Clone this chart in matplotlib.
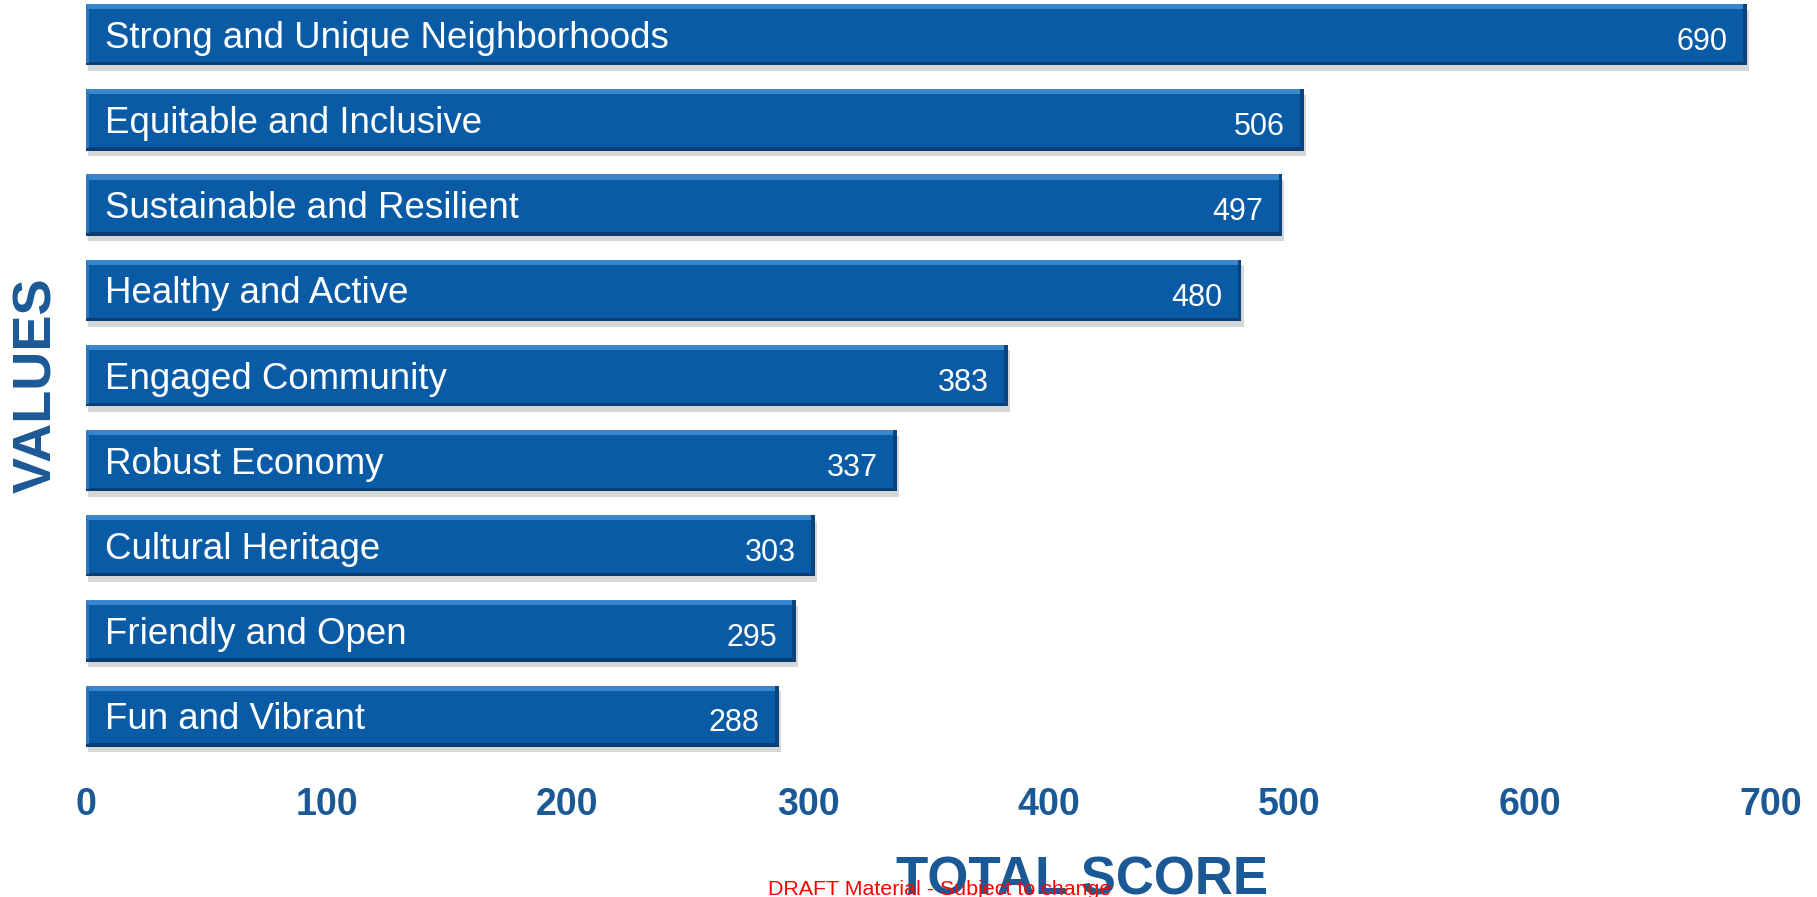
import matplotlib.pyplot as plt
import matplotlib.patheffects as pe

# data
values_names = ['Strong and Unique Neighborhoods', 'Equitable and Inclusive',
                'Sustainable and Resilient', 'Healthy and Active',
                'Engaged Community', 'Robust Economy', 'Cultural Heritage',
                'Friendly and Open', 'Fun and Vibrant']
scores = [690, 506, 497, 480, 383, 337, 303, 295, 288]
xticks = [0, 100, 200, 300, 400, 500, 600, 700]

blue = '#0A5BA6'
dark_blue = '#1B5996'
font = 'Liberation Sans'

fig = plt.figure(figsize=(18.17, 8.97), dpi=100)
ax = fig.add_axes([0.0473, 0.1527, 0.9274, 0.847])

ypos = list(range(len(scores)))
h = 0.72

# shadow + main bars
bars = ax.barh(ypos, scores, height=h, color=blue, zorder=2)
for b in bars:
    b.set_path_effects([pe.SimplePatchShadow(offset=(1.5, -4), shadow_rgbFace='#8a8a8a', alpha=0.35),
                        pe.Normal()])

# bevel strips
ax.barh([y - h / 2 + 0.03 for y in ypos], scores, height=0.06, color='#3A86CC', zorder=3)
ax.barh([y + h / 2 - 0.02 for y in ypos], scores, height=0.04, color='#0A3E73', zorder=3)
ax.barh(ypos, [1.6] * len(scores), left=[s - 1.6 for s in scores], height=h,
        color='#0A447F', zorder=3)
ax.barh(ypos, [1.4] * len(scores), left=[0] * len(scores), height=h - 0.06,
        color='#2C78BE', zorder=3)

for y, name, s in zip(ypos, values_names, scores):
    ax.annotate(name, xy=(0, y), xytext=(14, -9.5), textcoords='offset points',
                color='white', fontsize=26.4, family=font,
                ha='left', va='baseline', zorder=4)
    ax.annotate(str(s), xy=(s, y), xytext=(-14, -11), textcoords='offset points',
                color='white', fontsize=22, family=font,
                ha='right', va='baseline', zorder=4)

ax.set_xlim(0, 700)
ax.set_ylim(8.515, -0.405)
ax.set_xticks(xticks)
ax.set_xticklabels([str(t) for t in xticks], fontsize=27, fontweight='bold',
                   family=font, color=dark_blue)
ax.set_yticks([])
ax.tick_params(axis='x', length=0, pad=19.5)
for sp in ax.spines.values():
    sp.set_visible(False)

fig.text(0.0204, 0.571, 'VALUES', rotation=90, fontsize=39, fontweight='bold',
         family=font, color=dark_blue, ha='center', va='center')
fig.text(0.5955, 0.003, 'TOTAL SCORE', fontsize=38, fontweight='bold',
         family=font, color=dark_blue, ha='center', va='baseline')
fig.text(0.4228, 0.002, 'DRAFT Material - Subject to change', fontsize=15.4,
         family=font, color='red', ha='left', va='baseline', zorder=5)

fig.savefig('out.png', dpi=100)
